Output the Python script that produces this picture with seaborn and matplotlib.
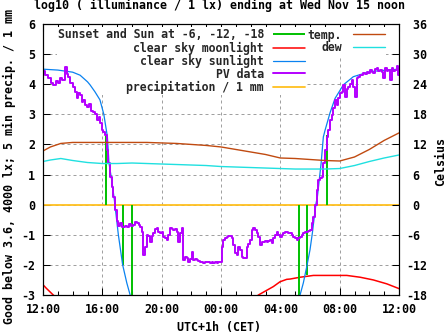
import matplotlib
matplotlib.use("Agg")
import matplotlib.pyplot as plt
from matplotlib.ticker import FixedLocator, MultipleLocator, FuncFormatter
import pandas as pd
import seaborn as sns

# Time axis: hours after Tuesday noon
hour_ticks = [0, 4, 8, 12, 16, 20, 24]
hour_labels = ["12:00", "16:00", "20:00", "00:00", "04:00", "08:00", "12:00"]

# Sunset / sunrise and sun at -6, -12 degrees (hour, line end in log10 lx)
sun_event_hours = [4.23, 5.41, 6.02, 17.23, 17.82, 19.12]
sun_event_levels = [2.3, -2.0, -3.1, -3.1, -2.35, 2.3]

# Clear sky sunlight, log10 lx
sun_eve_hours = [0, 1.0, 2.0, 2.5, 3.0, 3.17, 3.5, 3.84, 4.1, 4.34, 4.45, 4.63, 4.81, 5.08, 5.37, 5.65, 5.93, 6.05]
sun_eve_log = [4.50, 4.47, 4.40, 4.30, 4.08, 3.98, 3.75, 3.48, 3.0, 2.26, 1.38, 0.82, 0.16, -1.0, -2.0, -2.6, -3.1, -3.3]
sun_morn_hours = [17.2, 17.33, 17.55, 17.78, 18.0, 18.16, 18.29, 18.41, 18.5, 18.75, 18.9, 19.02, 19.35, 19.69, 20.25, 20.92, 22.05, 23.18, 24.0]
sun_morn_log = [-3.4, -3.0, -2.6, -2.06, -1.5, -0.94, -0.4, 0.05, 0.27, 1.38, 2.25, 2.48, 3.05, 3.53, 3.98, 4.25, 4.42, 4.47, 4.50]

# Clear sky moonlight, log10 lx
moon_eve_hours = [0, 0.23, 0.69, 0.8]
moon_eve_log = [-2.66, -2.78, -3.0, -3.05]
moon_night_hours = [14.4, 14.52, 15.53, 15.98, 16.43, 16.66, 17.33, 18.23, 19.13, 20.48, 21.38, 22.27, 23.18, 23.96, 24.0]
moon_night_log = [-3.05, -3.0, -2.72, -2.56, -2.48, -2.47, -2.41, -2.35, -2.35, -2.35, -2.41, -2.5, -2.63, -2.78, -2.79]

# Photovoltaic sensor, log10 lx
pv_hours = [0.00, 0.15, 0.35, 0.55, 0.69, 0.85, 1.00, 1.15, 1.30, 1.48, 1.60, 1.71, 1.85, 2.04, 2.15, 2.27,
            2.38, 2.49, 2.60, 2.72, 2.85, 2.95, 3.10, 3.25, 3.39, 3.50, 3.62, 3.75, 3.84, 3.96, 4.05, 4.18,
            4.29, 4.40, 4.52, 4.63, 4.74, 4.85, 4.97, 5.08, 5.19, 5.35, 5.50, 5.64, 5.80, 5.95, 6.09, 6.20,
            6.32, 6.45, 6.54, 6.65, 6.76, 6.88, 6.99, 7.10, 7.21, 7.32, 7.44, 7.55, 7.67, 7.78, 7.89, 8.00,
            8.11, 8.22, 8.34, 8.45, 8.56, 8.67, 8.78, 8.90, 9.01, 9.12, 9.24, 9.35, 9.46, 9.58, 9.69, 9.80,
            9.91, 10.02, 10.13, 10.25, 10.36, 10.47, 10.58, 10.70, 10.81, 10.92, 11.04, 11.15, 11.26, 11.37,
            11.48, 11.60, 11.71, 11.82, 11.93, 12.05, 12.16, 12.27, 12.38, 12.50, 12.61, 12.72, 12.83, 12.94,
            13.06, 13.17, 13.28, 13.40, 13.51, 13.62, 13.73, 13.85, 13.96, 14.07, 14.18, 14.30, 14.41, 14.52,
            14.63, 14.74, 14.85, 14.97, 15.08, 15.19, 15.30, 15.41, 15.53, 15.64, 15.76, 15.87, 15.98, 16.09,
            16.20, 16.32, 16.43, 16.54, 16.65, 16.76, 16.87, 16.99, 17.10, 17.21, 17.33, 17.44, 17.55, 17.66,
            17.78, 17.89, 18.00, 18.12, 18.22, 18.34, 18.45, 18.56, 18.67, 18.79, 18.90, 19.01, 19.12, 19.23,
            19.35, 19.48, 19.57, 19.69, 19.80, 19.91, 20.02, 20.13, 20.25, 20.36, 20.47, 20.58, 20.70, 20.81,
            20.92, 21.03, 21.15, 21.26, 21.37, 21.48, 21.59, 21.70, 21.82, 21.93, 22.05, 22.16, 22.27, 22.38,
            22.50, 22.61, 22.72, 22.83, 22.94, 23.06, 23.17, 23.28, 23.39, 23.51, 23.62, 23.73, 23.85, 23.95,
            24.00]
pv_log = [4.45, 4.30, 4.20, 4.05, 3.98, 4.10, 4.05, 4.20, 4.15, 4.58, 4.35, 4.25, 4.05, 3.92, 3.75, 3.53,
          3.70, 3.65, 3.40, 3.48, 3.30, 3.26, 3.35, 3.10, 3.09, 3.00, 2.81, 2.90, 2.70, 2.48, 2.40, 2.30,
          1.82, 1.37, 0.93, 0.60, 0.27, -0.18, -0.55, -0.70, -0.62, -0.75, -0.70, -0.73, -0.65, -0.70, -0.67, -0.58,
          -0.62, -0.68, -0.73, -0.90, -1.67, -1.40, -1.00, -1.05, -1.23, -1.05, -0.95, -0.80, -0.78, -0.90, -0.95, -0.90,
          -1.06, -1.10, -1.17, -1.00, -0.78, -0.80, -0.84, -0.82, -0.90, -1.23, -0.95, -0.78, -1.84, -1.75, -1.78, -1.89,
          -1.80, -1.56, -1.84, -1.80, -1.84, -1.87, -1.89, -1.90, -1.93, -1.90, -1.89, -1.92, -1.93, -1.90,
          -1.95, -1.92, -1.93, -1.90, -1.89, -1.40, -1.17, -1.10, -1.06, -1.05, -1.04, -1.12, -1.34, -1.61,
          -1.67, -1.40, -1.50, -1.73, -1.76, -1.78, -1.40, -1.30, -1.17, -0.84, -0.78, -0.85, -0.95, -1.06,
          -1.34, -1.25, -1.23, -1.20, -1.23, -1.20, -1.17, -1.28, -1.12, -1.00, -0.90, -1.00, -1.06, -1.00,
          -0.95, -0.92, -0.90, -0.93, -0.95, -1.00, -1.06, -1.12, -1.17, -1.12, -1.06, -1.00, -0.95, -0.92,
          -0.90, -0.88, -0.84, -0.62, -0.40, 0.00, 0.49, 0.82, 0.88, 0.93, 1.37, 1.82, 2.26, 2.48,
          2.80, 2.97, 3.20, 3.48, 3.30, 3.55, 3.70, 3.75, 3.98, 3.59, 3.85, 3.92, 4.00, 4.14,
          3.90, 3.59, 4.20, 4.25, 4.31, 4.30, 4.37, 4.35, 4.42, 4.38, 4.47, 4.40, 4.37, 4.50,
          4.53, 4.45, 4.47, 4.40, 4.20, 4.53, 4.45, 4.47, 4.14, 4.53, 4.45, 4.47, 4.59, 4.30,
          4.40]

# Precipitation per 5 min, mm
precip_hours = [0, 24]
precip_mm = [0.0, 0.0]

# Air temperature and dew point, Celsius
temp_hours = [0, 0.5, 1.2, 2, 3, 4, 5, 6, 7, 8, 9, 10, 11, 12, 13, 14, 15, 16, 17, 18, 19, 20, 21, 22, 23, 24]
temp_c = [10.7, 11.5, 12.2, 12.4, 12.4, 12.4, 12.4, 12.4, 12.4, 12.3, 12.2, 12.0, 11.8, 11.5, 11.0, 10.5,
          10.0, 9.3, 9.2, 9.0, 8.8, 8.7, 9.5, 11.0, 12.8, 14.3]
dew_hours = [0, 0.5, 1.2, 2, 3, 4, 5, 6, 7, 8, 9, 10, 11, 12, 13, 14, 15, 16, 17, 18, 19, 20, 21, 22, 23, 24]
dew_c = [8.6, 8.9, 9.2, 8.8, 8.4, 8.2, 8.2, 8.3, 8.2, 8.1, 8.0, 7.9, 7.8, 7.6, 7.5, 7.4, 7.3, 7.2, 7.1, 7.1,
         7.1, 7.2, 7.8, 8.6, 9.3, 9.9]

key_labels = ["Sunset and Sun at -6, -12, -18", "clear sky moonlight", "clear sky sunlight",
              "PV data", "precipitation / 1 mm"]
key2_labels = ["temp.", "dew"]

C_GREEN = "#00c000"
C_MOON = "#ff0000"
C_SUN = "#0a82f0"
C_PV = "#b400ff"
C_PRECIP = "#ffc020"
C_TEMP = "#c04a10"
C_DEW = "#20e0e0"
C_GRID = "#a0a0a0"

sns.set_theme(style="white")
plt.rcParams["font.family"] = ["DejaVu Sans Mono"]
plt.rcParams["font.weight"] = "bold"
plt.rcParams["axes.labelweight"] = "bold"
plt.rcParams["axes.axisbelow"] = True
FS = 8.37
FS_KEY = 8.3

W, H = 447, 335
fig = plt.figure(figsize=(W / 100, H / 100), dpi=100)
L, R, T, B = 43, 399, 24, 295
ax = fig.add_axes([L / W, 1 - B / H, (R - L) / W, (B - T) / H])
ax.set_facecolor("white")

# Sun event markers
sun_lines = ax.vlines(sun_event_hours, 0, sun_event_levels, colors=C_GREEN, linewidth=1.4, zorder=2.2,
                      label=key_labels[0])

moon = pd.DataFrame({"h": moon_eve_hours, "v": moon_eve_log})
sns.lineplot(data=moon, x="h", y="v", ax=ax, color=C_MOON, linewidth=1.1, legend=False,
             estimator=None, label=key_labels[1], zorder=2.1)
moon_line = ax.get_lines()[-1]
moon2 = pd.DataFrame({"h": moon_night_hours, "v": moon_night_log})
sns.lineplot(data=moon2, x="h", y="v", ax=ax, color=C_MOON, linewidth=1.1, legend=False,
             estimator=None, zorder=2.1)

sun1 = pd.DataFrame({"h": sun_eve_hours, "v": sun_eve_log})
sns.lineplot(data=sun1, x="h", y="v", ax=ax, color=C_SUN, linewidth=0.9, legend=False,
             estimator=None, label=key_labels[2], zorder=2.3)
sun_line = ax.get_lines()[-1]
sun2 = pd.DataFrame({"h": sun_morn_hours, "v": sun_morn_log})
sns.lineplot(data=sun2, x="h", y="v", ax=ax, color=C_SUN, linewidth=0.9, legend=False,
             estimator=None, zorder=2.3)

pv = pd.DataFrame({"h": pv_hours, "v": pv_log})
sns.lineplot(data=pv, x="h", y="v", ax=ax, color=C_PV, linewidth=1.4, legend=False,
             estimator=None, drawstyle="steps-post", label=key_labels[3], zorder=2.4)
pv_line = ax.get_lines()[-1]

pr = pd.DataFrame({"h": precip_hours, "v": precip_mm})
sns.lineplot(data=pr, x="h", y="v", ax=ax, color=C_PRECIP, linewidth=1.3, legend=False,
             estimator=None, label=key_labels[4], zorder=2.0)
pr_line = ax.get_lines()[-1]

ax.set_xlim(0, 24)
ax.set_ylim(-3, 6)

# Celsius axis on the right
ax2 = ax.twinx()
ax2.set_ylim(-18, 36)
tp = pd.DataFrame({"h": temp_hours, "c": temp_c})
sns.lineplot(data=tp, x="h", y="c", ax=ax2, color=C_TEMP, linewidth=1.0, legend=False,
             estimator=None, label=key2_labels[0])
temp_line = ax2.get_lines()[-1]
dw = pd.DataFrame({"h": dew_hours, "c": dew_c})
sns.lineplot(data=dw, x="h", y="c", ax=ax2, color=C_DEW, linewidth=1.0, legend=False,
             estimator=None, label=key2_labels[1])
dew_line = ax2.get_lines()[-1]
ax2.set_xlim(0, 24)

# Ticks, grid, frame
ax.xaxis.set_major_locator(FixedLocator(hour_ticks))
ax.set_xticklabels(hour_labels)
ax.xaxis.set_minor_locator(MultipleLocator(1))
ax.yaxis.set_major_locator(MultipleLocator(1))
ax.yaxis.set_major_formatter(FuncFormatter(lambda v, p: f"{v:g}"))
ax.tick_params(axis="both", which="major", direction="in", length=5, width=0.75, color="black",
               labelsize=FS, labelcolor="black", top=True, bottom=True, left=True, right=False)
ax.tick_params(axis="x", which="minor", direction="in", length=2.9, width=0.75, color="black",
               top=True, bottom=True)
ax.tick_params(axis="x", which="major", pad=5.8)
ax.tick_params(axis="y", which="major", pad=5.8)
ax2.yaxis.set_major_locator(MultipleLocator(6))
ax2.yaxis.set_major_formatter(FuncFormatter(lambda v, p: f"{v: g}"))
ax2.tick_params(axis="y", which="major", direction="in", length=5, width=0.75, color="black",
                labelsize=FS, labelcolor="black", pad=5.0)
for lab in ax2.get_yticklabels():
    lab.set_horizontalalignment("left")
ax.grid(True, which="major", color=C_GRID, linewidth=0.72, linestyle=(0, (3, 3)))
for a in (ax, ax2):
    for s in a.spines.values():
        s.set_color("black")
        s.set_linewidth(0.8)
ax.set_xlabel("")
ax.set_ylabel("")
ax2.set_ylabel("")
ax.set_zorder(1)
ax2.set_zorder(2)
ax2.patch.set_visible(False)


def to_axes(px, py):
    """Pixel position (from the top-left of the figure) to axes fraction."""
    return ((px - L) / (R - L), 1 - (py - T) / (B - T))


def build_keys(spacing, right1, right2, top):
    """Two keys with white backgrounds, drawn beneath the curves."""
    common = dict(loc="upper right", markerfirst=False, fontsize=FS_KEY, handlelength=2.75,
                  labelspacing=spacing, borderpad=0.1, borderaxespad=0, frameon=True,
                  fancybox=False, facecolor="white", edgecolor="none", framealpha=1.0)
    k1 = ax.legend([sun_lines, moon_line, sun_line, pv_line, pr_line], key_labels,
                   bbox_to_anchor=to_axes(right1, top), handletextpad=0.78, **common)
    k1.set_zorder(1.0)
    ax.add_artist(k1)
    k2 = ax.legend([temp_line, dew_line], key2_labels,
                   bbox_to_anchor=to_axes(right2, top), handletextpad=0.97, **common)
    k2.set_zorder(1.0)
    return k1, k2


# Lay the keys out once, then settle row pitch and position from the rendered text
spacing, right1, right2, top = 0.0, 305.0, 387.0, 28.5
k1, k2 = build_keys(spacing, right1, right2, top)
fig.canvas.draw()
rnd = fig.canvas.get_renderer()
ext1 = [t.get_window_extent(rnd) for t in k1.get_texts()]
ext2 = [t.get_window_extent(rnd) for t in k2.get_texts()]
centres = [H - (e.y0 + e.y1) / 2 for e in ext1]
pitch = (centres[-1] - centres[0]) / 4
row_h = ext1[0].height
fs_px = FS_KEY * 100 / 72
target = max(13.0, row_h)
spacing += (target - pitch) / fs_px
right1 += 264 - max(e.x1 for e in ext1[1:])
right2 += 342 - ext2[0].x1
top += 35 - centres[0]
k1.remove()
k2.remove()
build_keys(spacing, right1, right2, top)

# Titles and axis captions
fig.text(220 / W, 1 - 5.5 / H, "log10 ( illuminance / 1 lx) ending at Wed Nov 15 noon",
         ha="center", va="center", fontsize=FS, color="black")
fig.text(9.3 / W, 1 - 166.5 / H, "Good below 3.6, 4000 lx; 5 min precip. / 1 mm",
         rotation=90, ha="center", va="center", fontsize=FS, color="black")
fig.text(440.5 / W, 1 - 161 / H, "Celsius", rotation=90, ha="center", va="center",
         fontsize=FS, color="black")
fig.text(219.3 / W, 1 - 327 / H, "UTC+1h (CET)", ha="center", va="center", fontsize=FS, color="black")

fig.savefig("out.png", dpi=100, facecolor="white")
